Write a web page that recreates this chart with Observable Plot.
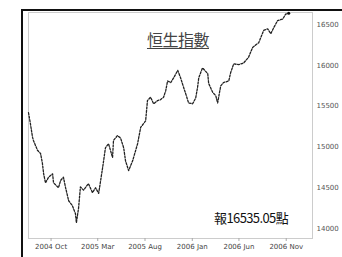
<!DOCTYPE html>
<html><head><meta charset="utf-8">
<script src="https://cdn.jsdelivr.net/npm/d3@7"></script>
<script src="https://cdn.jsdelivr.net/npm/@observablehq/plot@0.6"></script>
<style>
body{margin:0;background:#fff;}
#wrap{position:relative;width:342px;height:257px;overflow:hidden;font-family:"Noto Sans CJK TC","Noto Sans",sans-serif;}
#border{position:absolute;left:21px;top:9px;right:-2px;bottom:-2px;border-left:2px solid #111;border-top:2px solid #111;pointer-events:none;}
#title{position:absolute;left:0;width:356px;top:27px;text-align:center;font-size:16px;color:#444;text-decoration:underline;text-underline-offset:2px;letter-spacing:-0.5px;}
#note{position:absolute;left:214px;top:208px;font-size:13px;color:#111;letter-spacing:-0.6px;}
svg{position:absolute;left:0;top:0;}
</style></head>
<body><div id="wrap"><div id="border"></div></div>
<script>
const dates = ["2004-07-20","2004-07-26","2004-08-02","2004-08-05","2004-08-18","2004-08-28","2004-09-03","2004-09-07","2004-09-13","2004-09-23","2004-10-06","2004-10-09","2004-10-25","2004-11-01","2004-11-10","2004-11-17","2004-11-27","2004-12-09","2004-12-19","2004-12-22","2004-12-29","2005-01-04","2005-01-14","2005-01-30","2005-02-12","2005-02-22","2005-03-04","2005-03-17","2005-03-26","2005-04-05","2005-04-18","2005-04-21","2005-05-04","2005-05-14","2005-05-24","2005-05-30","2005-06-09","2005-06-22","2005-07-08","2005-07-18","2005-08-03","2005-08-09","2005-08-19","2005-08-29","2005-09-11","2005-09-20","2005-09-30","2005-10-07","2005-10-13","2005-10-23","2005-11-02","2005-11-15","2005-11-24","2005-12-04","2005-12-11","2005-12-20","2006-01-02","2006-01-12","2006-01-18","2006-01-22","2006-02-03","2006-02-20","2006-02-23","2006-03-08","2006-03-18","2006-03-24","2006-04-03","2006-04-12","2006-04-29","2006-05-05","2006-05-15","2006-05-31","2006-06-16","2006-07-02","2006-07-15","2006-08-04","2006-08-20","2006-09-02","2006-09-12","2006-09-21","2006-10-04","2006-10-21","2006-10-30","2006-11-09"];
const values = [15420,15290,15120,15080,14960,14920,14800,14670,14560,14630,14670,14560,14500,14590,14630,14500,14340,14280,14180,14070,14250,14510,14470,14550,14440,14500,14430,14750,14990,15040,14870,15080,15140,15110,14990,14830,14710,14830,15040,15240,15320,15570,15610,15530,15570,15580,15610,15690,15810,15790,15850,15940,15850,15730,15650,15540,15530,15600,15730,15850,15970,15900,15780,15670,15630,15540,15750,15790,15810,15910,16020,16010,16030,16100,16220,16280,16430,16450,16390,16460,16550,16570,16630,16640];
const xTickDates = ["2004-10-01","2005-03-01","2005-08-01","2006-01-01","2006-06-01","2006-11-01"];
const xTickLabels = ["2004 Oct","2005 Mar","2005 Aug","2006 Jan","2006 Jun","2006 Nov"];
const yTicks = [14000,14500,15000,15500,16000,16500];
const titleText = "恒生指數";
const noteText = "報16535.05點";

const data = dates.map((d,i)=>({date:new Date(d), value:values[i]}));
const tickD = xTickDates.map(d=>new Date(d));
const labelOf = new Map(tickD.map((d,i)=>[+d, xTickLabels[i]]));

const chart = Plot.plot({
  width:342, height:257,
  marginLeft:28, marginRight:30, marginTop:12, marginBottom:19,
  style:{fontFamily:"DejaVu Sans, sans-serif", fontSize:"7px", color:"#444", background:"transparent"},
  x:{type:"utc", domain:[new Date("2004-07-20"), new Date("2007-01-25")], label:null},
  y:{domain:[13877, 16650], label:null},
  marks:[
    Plot.frame({stroke:"#ccc", strokeWidth:1}),
    Plot.axisY({anchor:"right", ticks:yTicks, tickFormat:d=>String(d), tickSize:0, tickPadding:4, label:null, fill:"#555"}),
    Plot.axisX({ticks:tickD, tickFormat:d=>labelOf.get(+d), tickSize:3, tickPadding:3, label:null, stroke:"#aaa", fill:"#444"}),
    Plot.line(data, {x:"date", y:"value", stroke:"#222", strokeWidth:1.3, strokeDasharray:"2,1.5"}),
    Plot.dot(data.slice(-1), {x:"date", y:"value", r:1.5, fill:"#111"})
  ]
});
const wrap = document.getElementById("wrap");
wrap.insertBefore(chart, wrap.firstChild);
const t = document.createElement("div"); t.id="title"; t.textContent=titleText; wrap.appendChild(t);
const n = document.createElement("div"); n.id="note"; n.textContent=noteText; wrap.appendChild(n);
</script>
</body></html>
